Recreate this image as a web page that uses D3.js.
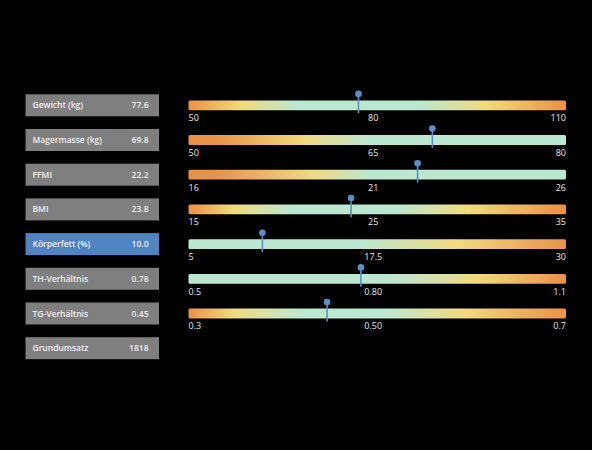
<!DOCTYPE html>
<html>
<head>
<meta charset="utf-8">
<script src="https://cdn.jsdelivr.net/npm/d3@7"></script>
<style>
  html, body { margin: 0; padding: 0; background: #000; }
  svg { display: block; }
</style>
</head>
<body>
<svg id="chart" width="592" height="450"></svg>
<script>
// ---- data ----
const labels = ["Gewicht (kg)", "Magermasse (kg)", "FFMI", "BMI", "Körperfett (%)", "TH-Verhältnis", "TG-Verhältnis", "Grundumsatz"];
const values = [77.6, 69.8, 22.2, 23.8, 10.0, 0.78, 0.45, 1818];
const valueLabels = ["77.6", "69.8", "22.2", "23.8", "10.0", "0.78", "0.45", "1818"];
const highlighted = ["Körperfett (%)"];
const scaleMins = [50, 50, 16, 15, 5, 0.5, 0.3];
const scaleMaxs = [110, 80, 26, 35, 30, 1.1, 0.7];
const minLabels = ["50", "50", "16", "15", "5", "0.5", "0.3"];
const midLabels = ["80", "65", "21", "25", "17.5", "0.80", "0.50"];
const maxLabels = ["110", "80", "26", "35", "30", "1.1", "0.7"];
// gradient zones per row: [fraction along bar, zone]
const zones = [
  [[0, "o"], [0.14, "y"], [0.29, "g"], [0.61, "g"], [0.79, "y"], [1, "o"]],
  [[0, "o"], [0.07, "o"], [0.31, "y"], [0.48, "g"], [1, "g"]],
  [[0, "o"], [0.07, "o"], [0.33, "y"], [0.48, "g"], [1, "g"]],
  [[0, "o"], [0.12, "y"], [0.27, "g"], [0.55, "g"], [0.74, "y"], [1, "o"]],
  [[0, "g"], [0.46, "g"], [0.71, "y"], [1, "o"]],
  [[0, "g"], [0.54, "g"], [0.76, "y"], [1, "o"]],
  [[0, "o"], [0.12, "y"], [0.3, "g"], [0.52, "g"], [0.73, "y"], [1, "o"]]
];

// ---- styles ----
const zoneColor = { o: "#e8924a", y: "#f1da80", g: "#bce8d1" };
const boxColor = "#7f7f7f", boxHi = "#4f83c1", markerColor = "#5b8ec6";
const font = "'Open Sans', 'Noto Sans', sans-serif";

const svg = d3.select("#chart");
const defs = svg.append("defs");

const y = d3.scalePoint().domain(labels).range([105.3, 348.2]);
const boxX0 = 25.5, boxX1 = 159, boxH = 22;
const barX0 = 188.5, barX1 = 566, barH = 9.8;

// label boxes
const rows = svg.append("g").selectAll("g").data(labels).join("g")
  .attr("transform", d => `translate(0,${y(d)})`);
rows.append("rect")
  .attr("x", boxX0).attr("y", -boxH / 2)
  .attr("width", boxX1 - boxX0).attr("height", boxH)
  .attr("fill", d => highlighted.includes(d) ? boxHi : boxColor);
rows.append("text")
  .attr("x", boxX0 + 7).attr("y", 3)
  .attr("font-family", font).attr("font-size", 8.5).attr("font-weight", 600)
  .attr("fill", "#f0f0f0").text(d => d);
rows.append("text")
  .attr("x", boxX1 - 10.5).attr("y", 3).attr("text-anchor", "end")
  .attr("font-family", font).attr("font-size", 8.5).attr("font-weight", 600)
  .attr("fill", "#f0f0f0").text((d, i) => valueLabels[i]);

// gauges
scaleMins.forEach((mn, i) => {
  const cy = y(labels[i]);
  const x = d3.scaleLinear().domain([mn, scaleMaxs[i]]).range([barX0, barX1 - 8]);
  const gid = "grad" + i;
  const grad = defs.append("linearGradient").attr("id", gid)
    .attr("x1", "0%").attr("x2", "100%").attr("y1", "0%").attr("y2", "0%");
  grad.selectAll("stop").data(zones[i]).join("stop")
    .attr("offset", d => (d[0] * 100) + "%")
    .attr("stop-color", d => zoneColor[d[1]]);
  const g = svg.append("g");
  g.append("rect")
    .attr("x", barX0).attr("y", cy - barH / 2)
    .attr("width", barX1 - barX0).attr("height", barH)
    .attr("rx", 1.5).attr("fill", `url(#${gid})`);
  const ty = cy + barH / 2 + 11;
  const tick = (txt, xx, anchor) => g.append("text")
    .attr("x", xx).attr("y", ty).attr("text-anchor", anchor)
    .attr("font-family", font).attr("font-size", 9).attr("fill", "#e8e8e8").text(txt);
  tick(minLabels[i], barX0, "start");
  tick(midLabels[i], x((mn + scaleMaxs[i]) / 2), "middle");
  tick(maxLabels[i], barX1, "end");
  const mx = x(values[i]);
  g.append("line")
    .attr("x1", mx).attr("x2", mx)
    .attr("y1", cy - barH / 2 - 7).attr("y2", cy + barH / 2 + 3)
    .attr("stroke", markerColor).attr("stroke-width", 1.6);
  g.append("circle")
    .attr("cx", mx).attr("cy", cy - barH / 2 - 6.5).attr("r", 3.3)
    .attr("fill", markerColor);
});
</script>
</body>
</html>
